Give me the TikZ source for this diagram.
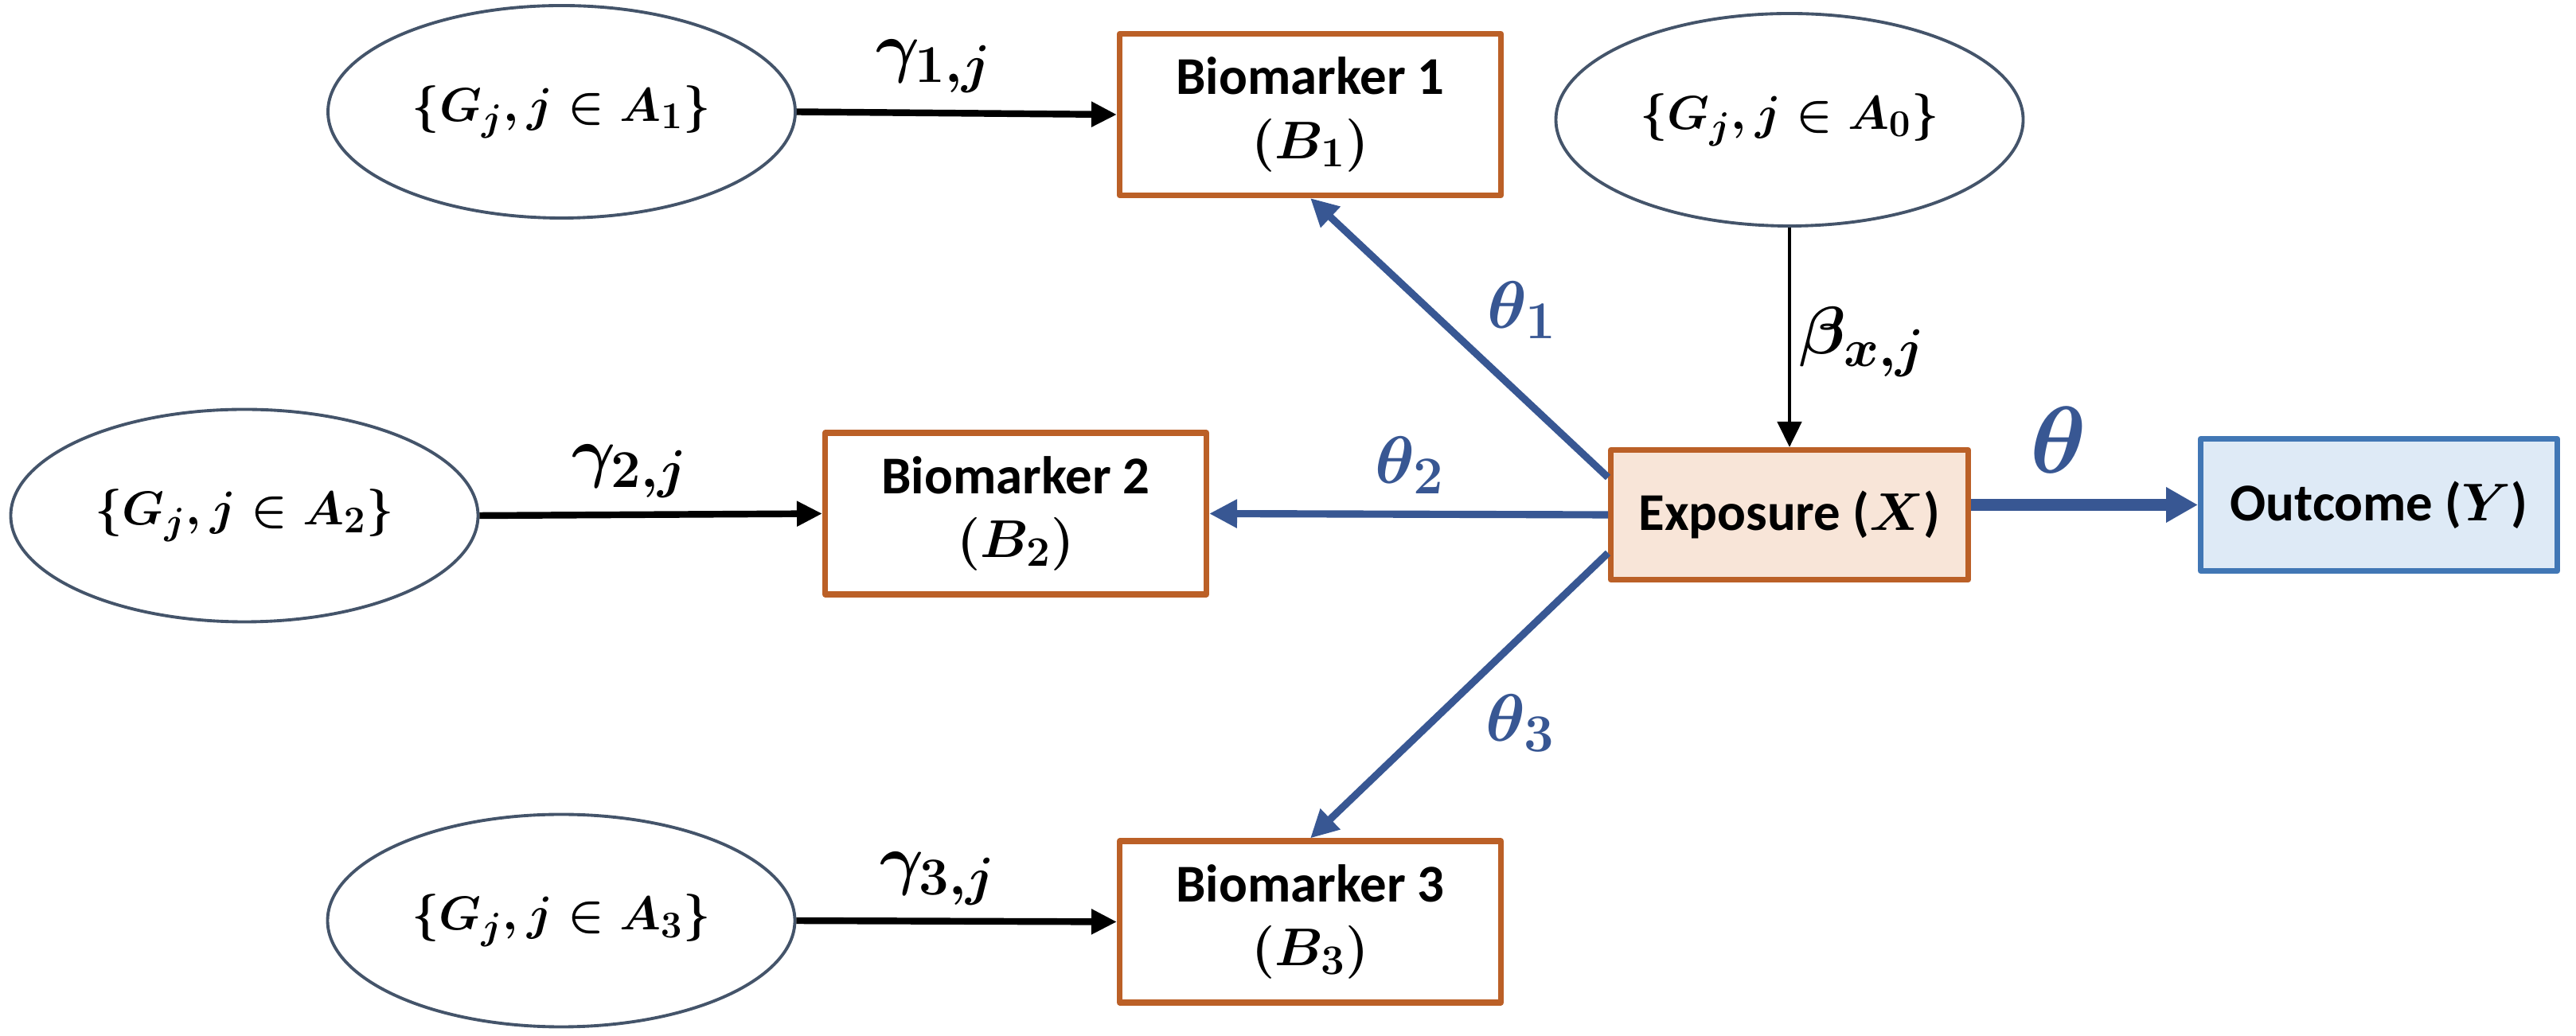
\RequirePackage{fix-cm}
\documentclass[tikz,border=0pt]{standalone}
\usepackage[no-math]{fontspec}
\setmainfont{Carlito}
\usetikzlibrary{arrows.meta,shapes.geometric}

\definecolor{boxorange}{RGB}{187,96,39}
\definecolor{expofill}{RGB}{248,229,216}
\definecolor{outblue}{RGB}{65,119,181}
\definecolor{outfill}{RGB}{222,234,246}
\definecolor{arrblue}{RGB}{56,87,147}
\definecolor{ellgray}{RGB}{68,84,106}

\DeclareMathSizes{17}{17}{13.5}{10}
\DeclareMathSizes{19}{19}{15}{11}
\DeclareMathSizes{24}{24}{19}{14}
\DeclareMathSizes{34}{34}{26}{20}

\begin{document}
\begin{tikzpicture}[line join=round,
	genes/.style={ellipse, draw=ellgray, line width=1.1pt, minimum width=5.87cm, minimum height=2.67cm, inner sep=0pt, font=\fontsize{17}{21}\selectfont\boldmath},
	marker/.style={rectangle, draw=boxorange, line width=2pt, fill=white, minimum width=4.79cm, minimum height=2.03cm, align=center, font=\fontsize{19}{23}\selectfont\bfseries\boldmath},
	coef/.style={font=\fontsize{24}{28}\selectfont\boldmath},
	blk/.style={-{Triangle[length=0.32cm,width=0.3cm]}, line width=2.4pt},
	blu/.style={-{Triangle[length=0.35cm,width=0.34cm]}, draw=arrblue, line width=2.6pt}]
	\useasboundingbox (0,0) rectangle (32.36,13.02);
	
	% gene sets
	\node[genes] (A1) at (7.055,11.615) {$\{G_j, j\in A_1\}$};
	\node[genes] (A0) at (22.48,11.515) {$\{G_j, j\in A_0\}$};
	\node[genes] (A2) at (3.07,6.54) {$\{G_j, j\in A_2\}$};
	\node[genes] (A3) at (7.05,1.45) {$\{G_j, j\in A_3\}$};
	
	% biomarkers, exposure, outcome
	\node[marker] (B1) at (16.46,11.58) {Biomarker 1\\$(B_1)$};
	\node[marker] (B2) at (12.76,6.565) {Biomarker 2\\$(B_2)$};
	\node[marker] (B3) at (16.46,1.435) {Biomarker 3\\$(B_3)$};
	\node[marker, fill=expofill, minimum width=4.49cm, minimum height=1.63cm] (X) at (22.48,6.55) {Exposure ($X$)};
	\node[marker, draw=outblue, fill=outfill, minimum width=4.48cm, minimum height=1.66cm] (Y) at (29.885,6.675) {Outcome ($Y$)};
	
	\draw[blk] (A1.east) -- (B1.west);
	\draw[blk] (A2.east) -- (B2.west);
	\draw[blk] (A3.east) -- (B3.west);
	\draw[blk, line width=1.4pt] (A0.south) -- (X.north);
	\draw[blu] (X.west) -- (B2.east);
	\draw[blu] ([yshift=0.47cm]X.west) -- (B1.south);
	\draw[blu] ([yshift=-0.48cm]X.west) -- (B3.north);
	\draw[blu, line width=4pt, -{Triangle[length=0.4cm,width=0.42cm]}] (X.east |- Y.west) -- (Y.west);
	
	% coefficients
	\node[coef] (g1) at (11.73,12.19) {$\gamma_{1,j}$};
	\node[coef] (g2) at (7.91,7.095) {$\gamma_{2,j}$};
	\node[coef] (g3) at (11.78,1.975) {$\gamma_{3,j}$};
	\node[coef] (bx) at (23.40,8.72) {$\beta_{x,j}$};
	\node[coef, text=arrblue] (t1) at (19.12,9.12) {$\theta_1$};
	\node[coef, text=arrblue] (t2) at (17.71,7.17) {$\theta_2$};
	\node[coef, text=arrblue] (t3) at (19.10,3.93) {$\theta_3$};
	\node[coef, text=arrblue, font=\fontsize{34}{38}\selectfont\boldmath] (t0) at (25.86,7.49) {$\theta$};
	
\end{tikzpicture}
\end{document}
